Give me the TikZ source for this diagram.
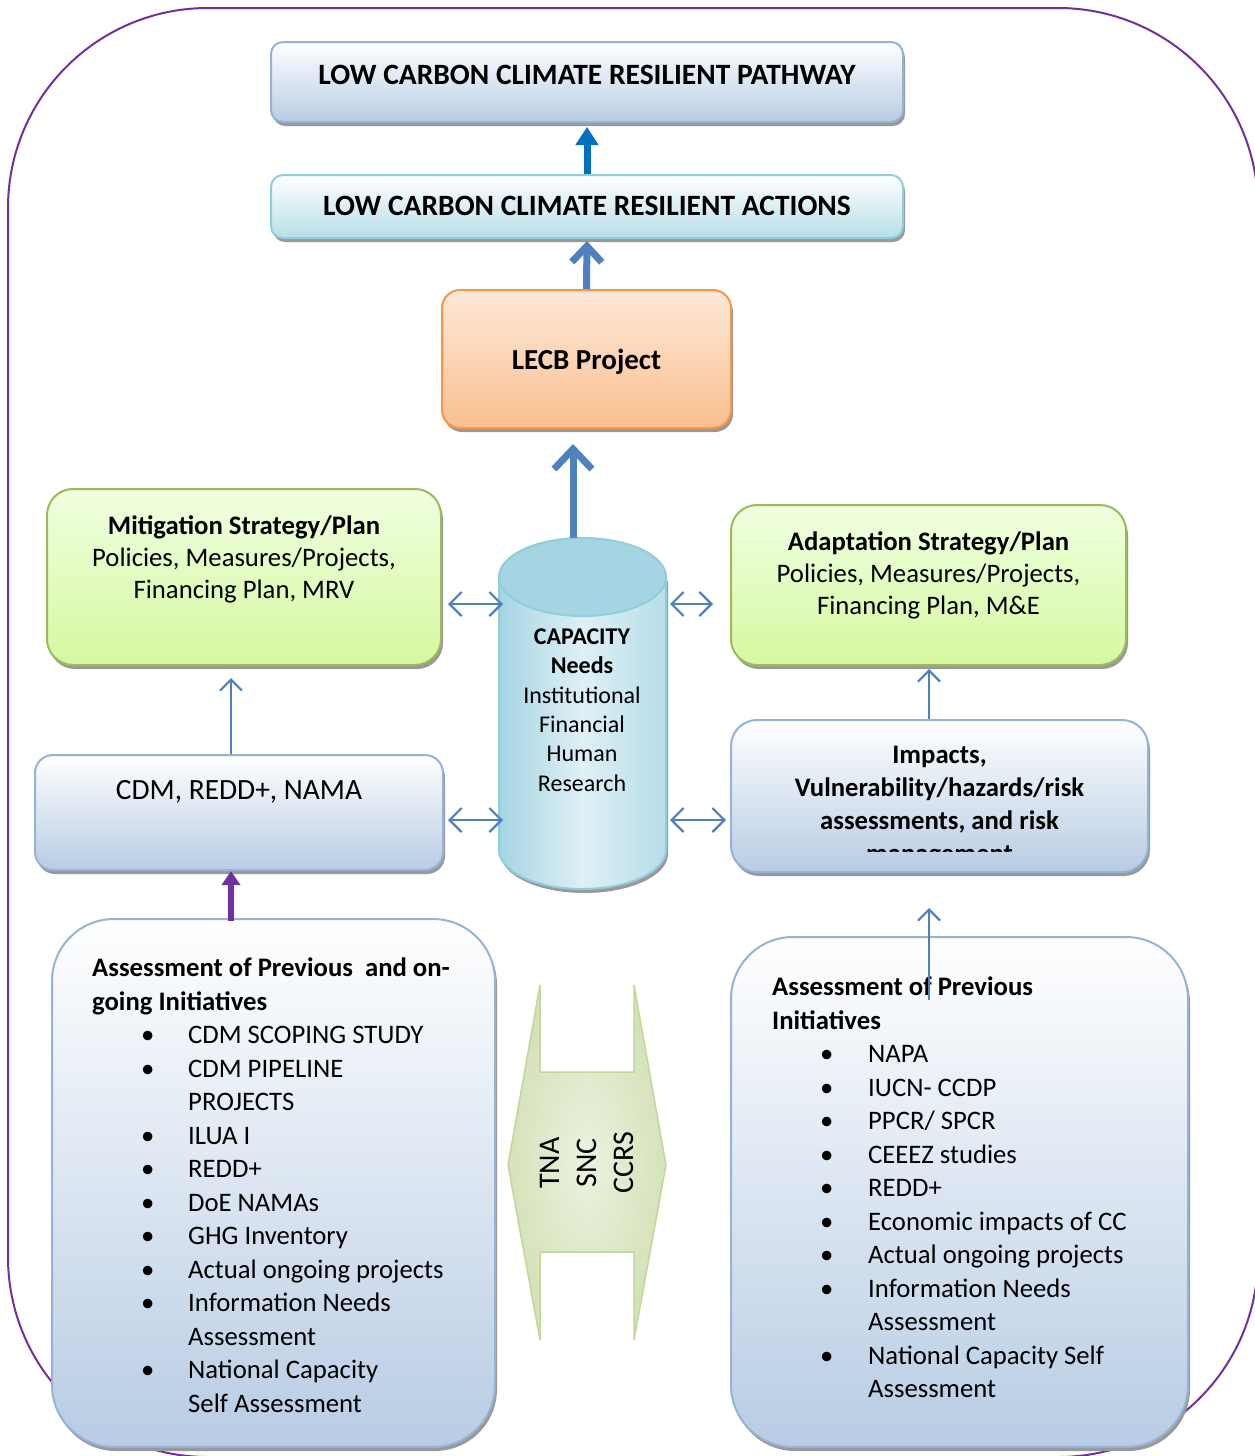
\documentclass[tikz,border=0pt]{standalone}
\usepackage{fontspec}
\setmainfont{Carlito}
\usetikzlibrary{arrows.meta,shadows}

\definecolor{framepurple}{RGB}{112,48,160}
\definecolor{blueline}{RGB}{149,179,215}
\definecolor{bluefill}{RGB}{184,204,228}
\definecolor{cyanline}{RGB}{146,205,220}
\definecolor{cyanfill}{RGB}{183,222,232}
\definecolor{orangeline}{RGB}{247,150,70}
\definecolor{orangetop}{RGB}{253,233,217}
\definecolor{orangebot}{RGB}{250,191,143}
\definecolor{greenline}{RGB}{155,187,89}
\definecolor{greentop}{RGB}{240,255,225}
\definecolor{greenbot}{RGB}{214,248,160}
\definecolor{arrowblue}{RGB}{79,129,189}
\definecolor{darkblue}{RGB}{0,112,192}
\definecolor{cylend}{RGB}{165,213,226}
\definecolor{cyllight}{RGB}{222,240,245}
\definecolor{blockfill}{RGB}{212,226,184}
\definecolor{blocklight}{RGB}{236,242,224}
\definecolor{blockline}{RGB}{195,214,155}

\tikzset{
  box/.style={draw, line width=2pt, inner sep=0pt,
    drop shadow={shadow xshift=2pt, shadow yshift=-4pt, fill=black!40, opacity=1}},
  bluebox/.style={box, draw=blueline, top color=white, bottom color=bluefill},
  cyanbox/.style={box, draw=cyanline, top color=white, bottom color=cyanfill},
  orangebox/.style={box, draw=orangeline, top color=orangetop, bottom color=orangebot},
  greenbox/.style={box, draw=greenline, top color=greentop, bottom color=greenbot},
  txt/.style={inner sep=0pt, font=\fontsize{26.7}{33.5}\selectfont},
  boldtxt/.style={txt, font=\fontsize{29.5}{33.5}\selectfont\bfseries},
  blockup/.style={line width=7pt, darkblue, -{Triangle[length=18pt,width=22pt]}},
  barbup/.style={line width=7pt, arrowblue, -{Straight Barb[length=16pt,width=30pt]}},
  thinup/.style={line width=2.2pt, arrowblue, -{Straight Barb[length=11pt,width=22pt]}},
  twoway/.style={line width=2.2pt, arrowblue, {Straight Barb[length=12pt,width=24pt]}-{Straight Barb[length=12pt,width=24pt]}},
  purpleup/.style={line width=6pt, framepurple, -{Triangle[length=14pt,width=18pt]}}
}

\begin{document}
\begin{tikzpicture}[x=1pt,y=-1pt]
  \useasboundingbox (0,0) rectangle (1254,1456);

  %Shape: Rounded Rectangle (frame)
  \draw[framepurple, line width=2pt, rounded corners=200pt] (8,8) rectangle (1258,1457);

  %Shape: Boxes
  \node (pathway) [bluebox, rounded corners=12pt, minimum width=632pt, minimum height=80pt] at (587,82) {};
  \node (actions) [cyanbox, rounded corners=12pt, minimum width=632pt, minimum height=63pt] at (587,206.5) {};
  \node (lecb) [orangebox, rounded corners=18pt, minimum width=289pt, minimum height=138pt] at (586.5,359) {};
  \node (mitig) [greenbox, rounded corners=26pt, minimum width=394pt, minimum height=176pt] at (244,577) {};
  \node (adapt) [greenbox, rounded corners=26pt, minimum width=395pt, minimum height=160pt] at (928.5,585) {};
  \node (cdm) [bluebox, rounded corners=18pt, minimum width=408pt, minimum height=115pt] at (239,812.5) {};
  \node (impacts) [bluebox, rounded corners=26pt, minimum width=417pt, minimum height=152pt] at (939.5,796) {};
  \node (leftbox) [bluebox, rounded corners=62pt, minimum width=443pt, minimum height=528pt] at (273.5,1183) {};
  \node (rightbox) [bluebox, rounded corners=62pt, minimum width=457pt, minimum height=510pt] at (959.5,1192) {};

  %Shape: Can
  \fill[black!40] (501,581) -- (501,854) arc[start angle=180, end angle=0, x radius=83.5, y radius=39] -- (668,581) -- cycle;
  \draw[cyanline, line width=2pt, left color=cylend, right color=cylend!80, middle color=cyllight] (499,577) -- (499,850) arc[start angle=180, end angle=0, x radius=83.5, y radius=39] -- (666,577) -- cycle;
  \draw[cyanline, line width=2pt, fill=cylend] (582.5,577) ellipse[x radius=83.5, y radius=39];
  \coordinate (captop) at (573,538);
  \coordinate (capW1) at (499,604);
  \coordinate (capE1) at (666,604);
  \coordinate (capW2) at (499,820);
  \coordinate (capE2) at (666,820);

  %Shape: Left-Right Arrow
  \draw[blockline, line width=1.5pt, inner color=blocklight, outer color=blockfill] (540,985) -- (540,1072) -- (634,1072) -- (634,985) -- (666,1165) -- (634,1340) -- (634,1252) -- (540,1252) -- (540,1340) -- (508,1165) -- cycle;

  % Text Node
  \node (pathwaytxt) [boldtxt] at (587,75) {LOW CARBON CLIMATE RESILIENT PATHWAY};
  % Text Node
  \node (actionstxt) [boldtxt] at (587,206) {LOW CARBON CLIMATE RESILIENT ACTIONS};
  % Text Node
  \node (lecbtxt) [boldtxt, font=\fontsize{29}{33}\selectfont\bfseries] at (586.5,362) {LECB Project};
  % Text Node
  \node (mitigtxt) [txt, align=center, font=\fontsize{26.7}{32}\selectfont] at (244,559) {\textbf{Mitigation Strategy/Plan}\\Policies, Measures/Projects,\\Financing Plan, MRV};
  % Text Node
  \node (adapttxt) [txt, align=center, font=\fontsize{26.7}{32}\selectfont] at (928.5,575) {\textbf{Adaptation Strategy/Plan}\\Policies, Measures/Projects,\\Financing Plan, M\&E};
  % Text Node
  \node (capacity) [txt, align=center, font=\fontsize{24}{29.3}\selectfont] at (582,710) {\textbf{CAPACITY}\\\textbf{Needs}\\Institutional\\Financial\\Human\\Research};
  % Text Node
  \node (cdmtxt) [txt, font=\fontsize{29.4}{33}\selectfont] at (239,792) {CDM, REDD+, NAMA};
  % Text Node
  \begin{scope}
    \clip (731,720) rectangle (1148,851);
    \node (impactstxt) [txt, align=center, font=\fontsize{26.7}{33}\selectfont\bfseries] at (939.5,807) {Impacts,\\Vulnerability/hazards/risk\\assessments, and risk\\management};
  \end{scope}
  % Text Node
  \node (tnatxt) [txt, align=center, rotate=90, font=\fontsize{30}{37}\selectfont] at (587,1163) {TNA\\SNC\\CCRS};
  % Text Node
  \node (lefttxt) [txt, anchor=north west, align=left] at (92,958) {\textbf{Assessment of Previous\ \ and on-}\\\textbf{going Initiatives}\\
    \hspace*{49pt}\makebox[47pt][l]{\textbullet}CDM SCOPING STUDY\\
    \hspace*{49pt}\makebox[47pt][l]{\textbullet}CDM PIPELINE\\
    \hspace*{96pt}PROJECTS\\
    \hspace*{49pt}\makebox[47pt][l]{\textbullet}ILUA I\\
    \hspace*{49pt}\makebox[47pt][l]{\textbullet}REDD+\\
    \hspace*{49pt}\makebox[47pt][l]{\textbullet}DoE NAMAs\\
    \hspace*{49pt}\makebox[47pt][l]{\textbullet}GHG Inventory\\
    \hspace*{49pt}\makebox[47pt][l]{\textbullet}Actual ongoing projects\\
    \hspace*{49pt}\makebox[47pt][l]{\textbullet}Information Needs\\
    \hspace*{96pt}Assessment\\
    \hspace*{49pt}\makebox[47pt][l]{\textbullet}National Capacity\\
    \hspace*{96pt}Self Assessment};
  % Text Node
  \node (righttxt) [txt, anchor=north west, align=left] at (772,977) {\textbf{Assessment of Previous}\\\textbf{Initiatives}\\
    \hspace*{48pt}\makebox[48pt][l]{\textbullet}NAPA\\
    \hspace*{48pt}\makebox[48pt][l]{\textbullet}IUCN- CCDP\\
    \hspace*{48pt}\makebox[48pt][l]{\textbullet}PPCR/ SPCR\\
    \hspace*{48pt}\makebox[48pt][l]{\textbullet}CEEEZ studies\\
    \hspace*{48pt}\makebox[48pt][l]{\textbullet}REDD+\\
    \hspace*{48pt}\makebox[48pt][l]{\textbullet}Economic impacts of CC\\
    \hspace*{48pt}\makebox[48pt][l]{\textbullet}Actual ongoing projects\\
    \hspace*{48pt}\makebox[48pt][l]{\textbullet}Information Needs\\
    \hspace*{96pt}Assessment\\
    \hspace*{48pt}\makebox[48pt][l]{\textbullet}National Capacity Self\\
    \hspace*{96pt}Assessment};

  %Straight Lines
  \coordinate (leftx) at (231,0);
  \coordinate (rightx) at (929,0);
  \coordinate (rightfoot) at (929,1000);
  \draw[blockup, shorten >=4pt] (actions.north) -- (pathway.south);
  \draw[barbup, shorten >=2pt] (lecb.north) -- (actions.south);
  \draw[barbup, -{Straight Barb[length=20pt,width=38pt]}, shorten >=15pt] (captop) -- (captop |- lecb.south);
  \draw[twoway, shorten <=6pt, shorten >=-4pt] (mitig.east |- capW1) -- (capW1);
  \draw[twoway, shorten <=4pt, shorten >=17pt] (capE1) -- (adapt.west |- capE1);
  \draw[twoway, shorten <=4pt, shorten >=-4pt] (cdm.east |- capW2) -- (capW2);
  \draw[twoway, shorten <=4pt, shorten >=4pt] (capE2) -- (impacts.west |- capE2);
  \draw[thinup, shorten >=12pt] (cdm.north -| leftx) -- (mitig.south -| leftx);
  \draw[thinup, shorten >=3pt] (impacts.north -| rightx) -- (adapt.south -| rightx);
  \draw[purpleup, shorten <=-3pt] (leftbox.north -| leftx) -- (cdm.south -| leftx);
  \draw[thinup, shorten >=35pt] (rightfoot) -- (impacts.south -| rightx);

\end{tikzpicture}
\end{document}
